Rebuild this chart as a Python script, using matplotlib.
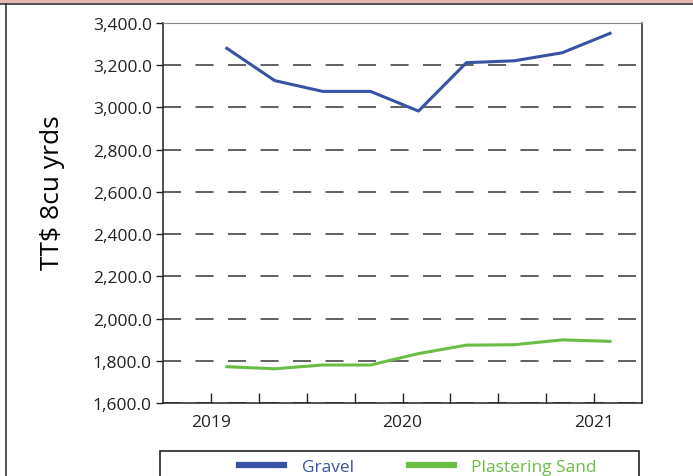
import matplotlib
matplotlib.use("Agg")
import matplotlib.pyplot as plt
from matplotlib.patches import Rectangle
from matplotlib.lines import Line2D
from matplotlib.ticker import FuncFormatter

plt.rcParams["font.family"] = ["Open Sans", "DejaVu Sans"]

# months counted from Jan 2019, one reading per quarter
months = [1, 4, 7, 10, 13, 16, 19, 22, 25]
gravel = [3280, 3127, 3076, 3076, 2983, 3212, 3221, 3259, 3351]
plastering_sand = [1772, 1762, 1780, 1780, 1834, 1874, 1876, 1899, 1892]

year_ticks = [0, 12, 24]
year_labels = ["2019", "2020", "2021"]
quarter_ticks = list(range(0, 27, 3))

blue = "#3953a4"
green = "#6abd45"

fig = plt.figure(figsize=(6.93, 4.77), dpi=100)

# page frame bits around the chart
fig.patches.append(Rectangle((0, 1 - 4 / 477), 1, 4 / 477, transform=fig.transFigure,
                             facecolor="#e6b9b0", edgecolor="none"))
fig.lines.append(Line2D([0, 1], [1 - 4.5 / 477] * 2, transform=fig.transFigure,
                        color="#333333", lw=1.2))
fig.lines.append(Line2D([5.5 / 693] * 2, [0, 1 - 4.5 / 477], transform=fig.transFigure,
                        color="#333333", lw=1.2))

ax = fig.add_axes([163 / 693, 1 - 404 / 477, (642 - 163) / 693, (404 - 24) / 477])

ax.plot(months, gravel, color=blue, lw=2.2, label="Gravel")
ax.plot(months, plastering_sand, color=green, lw=2.2, label="Plastering Sand")

ax.set_xlim(-3, 27)
ax.set_ylim(1600, 3400)
ax.set_yticks(range(1600, 3401, 200))
ax.yaxis.set_major_formatter(FuncFormatter(lambda v, p: f"{v:,.1f}"))
ax.set_xticks(quarter_ticks)
ax.set_xticklabels([year_labels[year_ticks.index(t)] if t in year_ticks else "" for t in quarter_ticks])

ax.tick_params(axis="y", direction="out", length=5, width=1, pad=3, labelsize=12.5, colors="#222222")
ax.tick_params(axis="x", direction="in", length=7, width=1, pad=8, labelsize=12.5, colors="#222222")

ax.grid(axis="y", color="#555555", lw=1.3, linestyle=(0, (10, 8)))
ax.set_axisbelow(True)
for side in ["left", "bottom", "right"]:
    ax.spines[side].set_color("#222222")
    ax.spines[side].set_linewidth(1.1)
ax.spines["top"].set_color("#888888")

ax.set_ylabel("TT$ 8cu yrds", fontsize=19, color="#000000")
ax.yaxis.set_label_coords(-0.205, 0.555)

# legend box runs off the bottom of the page
fig.patches.append(Rectangle((160 / 693, -0.05), (639 - 160) / 693, 0.05 + 25 / 477,
                             transform=fig.transFigure, facecolor="white",
                             edgecolor="#111111", lw=1.1))
leg = fig.legend(loc="center", bbox_to_anchor=(418 / 693, 9 / 477), ncol=2, frameon=False,
                 fontsize=12.5, handlelength=2.6, handleheight=0.6, handletextpad=1.0,
                 columnspacing=3.15, labelcolor="linecolor", borderaxespad=0)
for line in leg.get_lines():
    line.set_linewidth(4.5)

fig.savefig("out.png", dpi=100)
